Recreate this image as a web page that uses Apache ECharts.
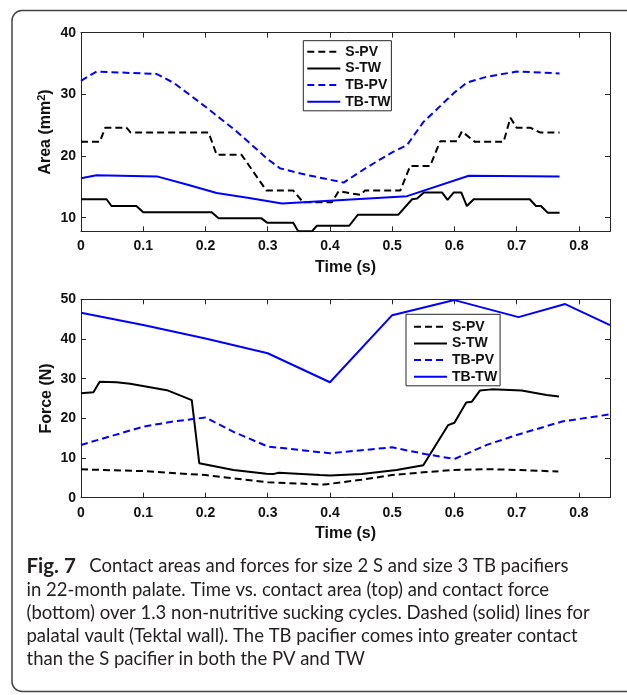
<!DOCTYPE html>
<html>
<head>
<meta charset="utf-8">
<script src="https://cdn.jsdelivr.net/npm/echarts@6/dist/echarts.min.js"></script>
<style>
  html, body { margin: 0; padding: 0; background: #fff; }
  #fig { width: 627px; height: 695px; }
</style>
</head>
<body>
<div id="fig"></div>
<script>
// ---- Tick labels ----
const timeTicks  = [0, 0.1, 0.2, 0.3, 0.4, 0.5, 0.6, 0.7, 0.8];
const areaTicks  = [10, 20, 30, 40];
const forceTicks = [0, 10, 20, 30, 40, 50];
const seriesNames = ['S-PV', 'S-TW', 'TB-PV', 'TB-TW'];

// ---- Contact area (mm^2) vs time (s) ----
const areaT_SPV = [0, 0.03, 0.039, 0.073, 0.08, 0.205, 0.218, 0.258, 0.298, 0.341, 0.357, 0.403, 0.414, 0.449, 0.456, 0.513, 0.529, 0.561, 0.577, 0.604, 0.612, 0.633, 0.679, 0.690, 0.700, 0.722, 0.738, 0.769];
const areaV_SPV = [22.3, 22.3, 24.6, 24.6, 23.8, 23.8, 20.2, 20.2, 14.4, 14.4, 12.5, 12.5, 14.3, 13.7, 14.4, 14.4, 18.4, 18.4, 22.4, 22.4, 24.0, 22.3, 22.3, 26.2, 24.6, 24.6, 23.8, 23.8];

const areaT_STW = [0, 0.041, 0.049, 0.089, 0.10, 0.210, 0.221, 0.29, 0.299, 0.341, 0.349, 0.371, 0.379, 0.431, 0.445, 0.51, 0.532, 0.54, 0.551, 0.58, 0.589, 0.599, 0.611, 0.62, 0.631, 0.721, 0.731, 0.739, 0.75, 0.769];
const areaV_STW = [13.0, 13.0, 11.9, 11.9, 10.9, 10.9, 9.9, 9.9, 9.2, 9.2, 7.8, 7.8, 8.7, 8.7, 10.5, 10.5, 13.0, 13.1, 14.1, 14.1, 12.9, 14.1, 14.1, 11.9, 13.0, 13.0, 11.9, 11.9, 10.8, 10.8];

const areaT_TBPV = [0, 0.025, 0.122, 0.15, 0.2, 0.25, 0.3, 0.32, 0.36, 0.422, 0.46, 0.5, 0.524, 0.55, 0.6, 0.62, 0.65, 0.7, 0.769];
const areaV_TBPV = [32.2, 33.7, 33.3, 31.8, 28.0, 24.0, 19.5, 18.0, 17.0, 15.7, 18.2, 20.6, 21.8, 25.5, 30.3, 31.9, 32.8, 33.7, 33.4];

const areaT_TBTW = [0, 0.025, 0.122, 0.17, 0.218, 0.27, 0.323, 0.524, 0.623, 0.769];
const areaV_TBTW = [16.4, 16.9, 16.7, 15.4, 14.0, 13.2, 12.3, 13.5, 16.8, 16.7];

// ---- Contact force (N) vs time (s) ----
const forceT_SPV = [0, 0.1, 0.2, 0.3, 0.39, 0.45, 0.5, 0.55, 0.6, 0.65, 0.7, 0.767];
const forceV_SPV = [7.15, 6.7, 5.7, 3.9, 3.3, 4.5, 5.7, 6.4, 7.0, 7.2, 7.0, 6.6];

const forceT_STW = [0, 0.02, 0.03, 0.057, 0.079, 0.138, 0.178, 0.19, 0.245, 0.298, 0.31, 0.318, 0.384, 0.4, 0.451, 0.507, 0.55, 0.59, 0.6, 0.619, 0.628, 0.641, 0.66, 0.708, 0.748, 0.768];
const forceV_STW = [26.3, 26.6, 29.2, 29.1, 28.7, 27.1, 24.6, 8.7, 7.0, 6.05, 6.0, 6.3, 5.7, 5.6, 6.0, 7.0, 8.2, 18.3, 18.9, 24.0, 24.2, 27.0, 27.3, 27.0, 25.9, 25.5];

const forceT_TBPV = [0, 0.1, 0.148, 0.2, 0.245, 0.3, 0.4, 0.5, 0.553, 0.6, 0.652, 0.7, 0.773, 0.85];
const forceV_TBPV = [13.3, 17.9, 19.2, 20.2, 16.6, 12.9, 11.2, 12.7, 11.0, 9.75, 13.3, 15.8, 19.2, 21.0];

const forceT_TBTW = [0, 0.1, 0.2, 0.3, 0.4, 0.5, 0.6, 0.703, 0.778, 0.85];
const forceV_TBTW = [46.6, 43.5, 40.1, 36.4, 29.1, 46.0, 49.8, 45.5, 48.8, 43.5];

// ---- Caption ----
const captionLead = 'Fig. 7';
const captionLines = [
  'Contact areas and forces for size 2 S and size 3 TB pacifiers',
  'in 22-month palate. Time vs. contact area (top) and contact force',
  '(bottom) over 1.3 non-nutritive sucking cycles. Dashed (solid) lines for',
  'palatal vault (Tektal wall). The TB pacifier comes into greater contact',
  'than the S pacifier in both the PV and TW'
];

// ---------------------------------------------------------------
const AX = '#262626';
const LABEL_FONT = 'Liberation Sans, Arial, sans-serif';
const CAP_FONT = 'Lato';
const CAP_LEFT = 26.5;
const CAP_TOP = 568.3;     // centre of first caption line
const CAP_STEP = 23.3;     // line spacing
const CAP_BLOCK = 1979;    // summed width of caption lines 2-5 (px)
const CAP_TEXT_X = 89.3;   // x where the first line's body starts after the lead
const LEAD_WIDTH = 49.3;   // width of the bold lead

const zip = (t, v) => t.map((x, i) => [x, v[i]]);

// Size the caption font so the wrapped lines fill the caption block
const measureCtx = document.createElement('canvas').getContext('2d');
function textWidth(str, size, weight) {
  measureCtx.font = (weight || 'normal') + ' ' + size + 'px ' + CAP_FONT;
  return measureCtx.measureText(str).width;
}
const capSize = (function () {
  let w = 0;
  for (let i = 1; i < captionLines.length; i++) w += textWidth(captionLines[i], 100);
  return Math.round(CAP_BLOCK / w * 100 * 10) / 10;
})();
const leadSize = Math.round(LEAD_WIDTH / textWidth(captionLead, 100, 'bold') * 100 * 10) / 10;

function xAxisDef(grid, position, withLabels, name) {
  return {
    type: 'value', gridIndex: grid, position: position,
    min: 0, max: 0.85,
    name: name || '', nameLocation: 'middle', nameGap: 28, nameMoveOverlap: false,
    nameTextStyle: { fontFamily: LABEL_FONT, fontWeight: 'bold', fontSize: 16, color: '#111' },
    axisLine: { show: true, onZero: false, lineStyle: { color: AX, width: 1 } },
    axisTick: { show: true, inside: true, length: 5, customValues: timeTicks, lineStyle: { color: AX, width: 1 } },
    axisLabel: { show: withLabels, customValues: timeTicks, margin: 8,
      fontFamily: LABEL_FONT, fontWeight: 'bold', fontSize: 14, color: '#111' },
    splitLine: { show: false }
  };
}
function yAxisDef(grid, position, min, max, ticks, withLabels, name) {
  return {
    type: 'value', gridIndex: grid, position: position,
    min: min, max: max,
    name: name || '', nameLocation: 'middle', nameGap: 26, nameRotate: 90, nameMoveOverlap: false,
    nameTextStyle: {
      fontFamily: LABEL_FONT, fontWeight: 'bold', fontSize: 16, color: '#111',
      rich: {
        sup: { fontFamily: LABEL_FONT, fontWeight: 'bold', fontSize: 11, color: '#111', padding: [0, 0, 8, 0] }
      }
    },
    axisLine: { show: true, onZero: false, lineStyle: { color: AX, width: 1 } },
    axisTick: { show: true, inside: true, length: 5, customValues: ticks, lineStyle: { color: AX, width: 1 } },
    axisLabel: { show: withLabels, customValues: ticks, margin: 5,
      fontFamily: LABEL_FONT, fontWeight: 'bold', fontSize: 14, color: '#111' },
    splitLine: { show: false }
  };
}
function lineSeries(name, data, xi, yi, color, dashed) {
  return {
    name: name, type: 'line', xAxisIndex: xi, yAxisIndex: yi,
    data: data, symbol: 'none', showSymbol: false,
    lineStyle: { color: color, width: 2, type: dashed ? [7, 4] : 'solid' },
    itemStyle: { color: color },
    animation: false
  };
}
function legendDef(left, top, padding) {
  return {
    data: seriesNames, orient: 'vertical', left: left, top: top,
    itemWidth: 33, itemHeight: 12, itemGap: 2.7, padding: padding,
    backgroundColor: '#fff', borderColor: AX, borderWidth: 1,
    itemStyle: { opacity: 0, borderWidth: 0 },
    textStyle: { fontFamily: LABEL_FONT, fontWeight: 'bold', fontSize: 14, lineHeight: 14, color: '#111' },
    selectedMode: false
  };
}

const graphics = [
  { type: 'rect', shape: { x: 12, y: 10.5, width: 650, height: 681, r: 10 },
    style: { fill: 'none', stroke: '#444', lineWidth: 1.5 }, silent: true },
  { type: 'text', left: CAP_LEFT, top: CAP_TOP - leadSize * 0.62,
    style: { text: captionLead, fontFamily: CAP_FONT, fontSize: leadSize, fontWeight: 'bold', fill: '#231f20' } }
];
captionLines.forEach((line, i) => {
  graphics.push({
    type: 'text', left: i === 0 ? CAP_TEXT_X : CAP_LEFT, top: CAP_TOP + i * CAP_STEP - capSize * 0.62,
    style: { text: line, fontFamily: CAP_FONT, fontSize: capSize, fill: '#231f20' }
  });
});

const chart = echarts.init(document.getElementById('fig'), null, { renderer: 'canvas' });
chart.setOption({
  backgroundColor: '#fff',
  animation: false,
  grid: [
    { left: 81, right: 17, top: 32.7, height: 198.6 },
    { left: 81, right: 17, top: 299.3, height: 198.4 }
  ],
  xAxis: [
    xAxisDef(0, 'bottom', true, 'Time (s)'),
    xAxisDef(0, 'top', false),
    xAxisDef(1, 'bottom', true, 'Time (s)'),
    xAxisDef(1, 'top', false)
  ],
  yAxis: [
    yAxisDef(0, 'left', 7.8, 40, areaTicks, true, 'Area (mm{sup|2})'),
    yAxisDef(0, 'right', 7.8, 40, areaTicks, false),
    yAxisDef(1, 'left', 0, 50, forceTicks, true, 'Force (N)'),
    yAxisDef(1, 'right', 0, 50, forceTicks, false)
  ],
  legend: [
    legendDef(303.3, 40.7, [4, 1, 2, 3]),
    legendDef(406, 314.3, [5.4, 3, 2, 7])
  ],
  series: [
    lineSeries('S-PV',  zip(areaT_SPV,  areaV_SPV),  0, 0, '#000', true),
    lineSeries('S-TW',  zip(areaT_STW,  areaV_STW),  0, 0, '#000', false),
    lineSeries('TB-PV', zip(areaT_TBPV, areaV_TBPV), 0, 0, '#0000ff', true),
    lineSeries('TB-TW', zip(areaT_TBTW, areaV_TBTW), 0, 0, '#0000ff', false),
    lineSeries('S-PV',  zip(forceT_SPV,  forceV_SPV),  2, 2, '#000', true),
    lineSeries('S-TW',  zip(forceT_STW,  forceV_STW),  2, 2, '#000', false),
    lineSeries('TB-PV', zip(forceT_TBPV, forceV_TBPV), 2, 2, '#0000ff', true),
    lineSeries('TB-TW', zip(forceT_TBTW, forceV_TBTW), 2, 2, '#0000ff', false)
  ],
  graphic: graphics
});
</script>
</body>
</html>
